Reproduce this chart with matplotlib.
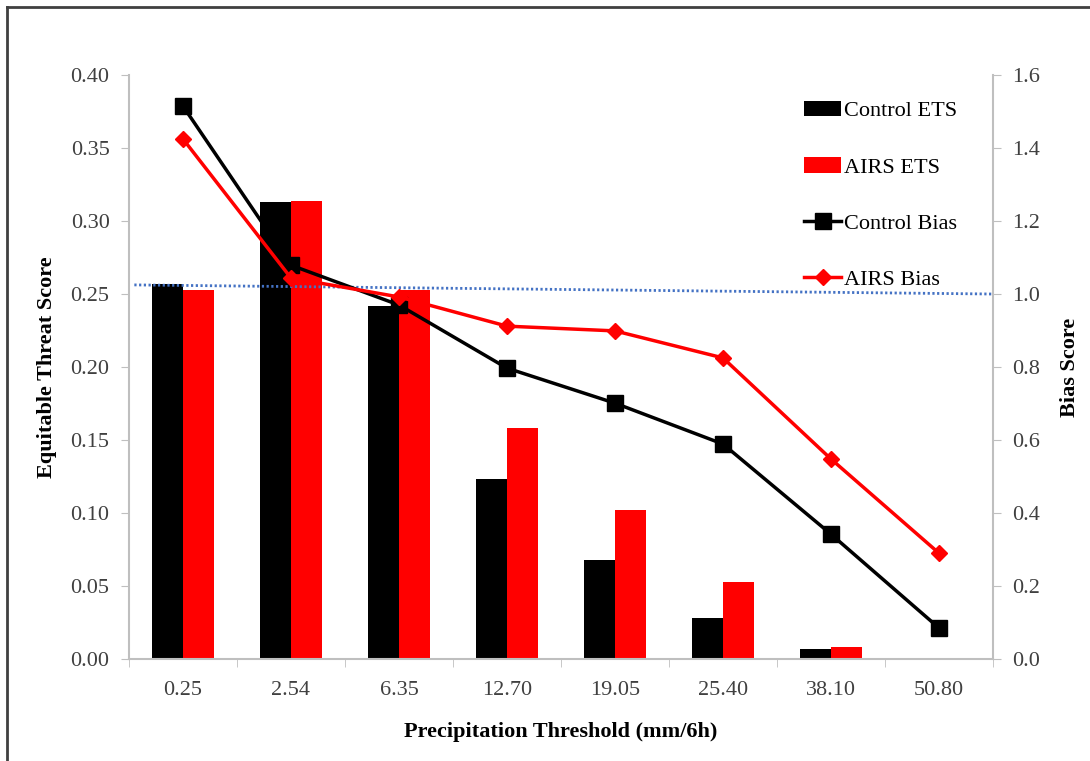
import numpy as np
import matplotlib.pyplot as plt
from matplotlib.lines import Line2D

plt.rcParams['font.family'] = ['Liberation Serif', 'DejaVu Serif']

thresholds = ['0.25', '2.54', '6.35', '12.70', '19.05', '25.40', '38.10', '50.80']
control_ets = [0.257, 0.313, 0.242, 0.123, 0.068, 0.028, 0.007, 0.001]
airs_ets = [0.253, 0.314, 0.253, 0.158, 0.102, 0.053, 0.008, 0.0]
control_bias = [1.515, 1.079, 0.970, 0.797, 0.701, 0.589, 0.342, 0.085]
airs_bias = [1.425, 1.044, 0.992, 0.912, 0.899, 0.825, 0.548, 0.290]
ref_bias = [1.025, 1.0]  # dotted reference line, left end -> right end

grey = '#bfbfbf'
tick_col = '#404040'
fs = 16

fig = plt.figure(figsize=(10.9, 7.61), dpi=100)
ax1 = fig.add_axes([0.1183, 0.134, 0.7927, 0.7674])
ax2 = ax1.twinx()

x = np.arange(len(thresholds))
w = 0.285
b1 = ax1.bar(x - w / 2, control_ets, w, color='black', label='Control ETS', zorder=2)
b2 = ax1.bar(x + w / 2, airs_ets, w, color='#ff0000', label='AIRS ETS', zorder=2)

l1, = ax2.plot(x, control_bias, color='black', lw=2.5, marker='s', ms=11,
               label='Control Bias', zorder=3)
l2, = ax2.plot(x, airs_bias, color='#ff0000', lw=2.5, marker='D', ms=8,
               label='AIRS Bias', zorder=3)
ax2.plot([-0.45, len(thresholds) - 0.5], ref_bias, color='#4472c4', lw=2,
         ls=(0, (0.8, 0.9)), zorder=1)

ax1.set_xlim(-0.5, len(thresholds) - 0.5)
ax1.set_ylim(0, 0.4)
ax1.set_yticks(np.arange(0, 0.401, 0.05))
ax1.set_yticklabels([f'{v:.2f}' for v in np.arange(0, 0.401, 0.05)])
ax2.set_ylim(0, 1.6)
ax2.set_yticks(np.arange(0, 1.61, 0.2))
ax2.set_yticklabels([f'{v:.1f}' for v in np.arange(0, 1.61, 0.2)])

ax1.set_xticks(x)
ax1.set_xticklabels(thresholds)
ax1.set_xticks(np.arange(-0.5, len(thresholds)), minor=True)
ax1.tick_params(axis='x', which='major', length=0, pad=16, labelsize=fs,
                labelcolor=tick_col)
ax1.tick_params(axis='x', which='minor', length=6, color=grey, direction='out')
ax1.tick_params(axis='y', length=6, color=grey, labelsize=fs, labelcolor=tick_col, pad=8)
ax2.tick_params(axis='y', length=6, color=grey, labelsize=fs, labelcolor=tick_col, pad=8)

for ax in (ax1, ax2):
    for s in ax.spines.values():
        s.set_color(grey)
        s.set_linewidth(1.5)
    ax.spines['top'].set_visible(False)
ax1.spines['right'].set_visible(False)
ax2.spines['left'].set_visible(False)
ax2.spines['bottom'].set_visible(False)

ax1.set_xlabel('Precipitation Threshold (mm/6h)', fontsize=fs, fontweight='bold', labelpad=16)
ax1.set_ylabel('Equitable Threat Score', fontsize=fs, fontweight='bold', labelpad=10)
ax2.set_ylabel('Bias Score', fontsize=fs, fontweight='bold', labelpad=14)

ax2.legend([b1, b2, l1, l2], ['Control ETS', 'AIRS ETS', 'Control Bias', 'AIRS Bias'],
           loc='upper right', bbox_to_anchor=(0.982, 0.99), frameon=False,
           fontsize=fs, labelspacing=1.6, handlelength=1.65, handletextpad=0.15)

# outer border (left and top only visible in the crop)
fig.add_artist(Line2D([7 / 1090, 7 / 1090], [0, 1 - 7 / 761], color='#404040', lw=2))
fig.add_artist(Line2D([7 / 1090, 1], [1 - 7 / 761, 1 - 7 / 761], color='#404040', lw=2))

fig.savefig('out.png', dpi=100)
